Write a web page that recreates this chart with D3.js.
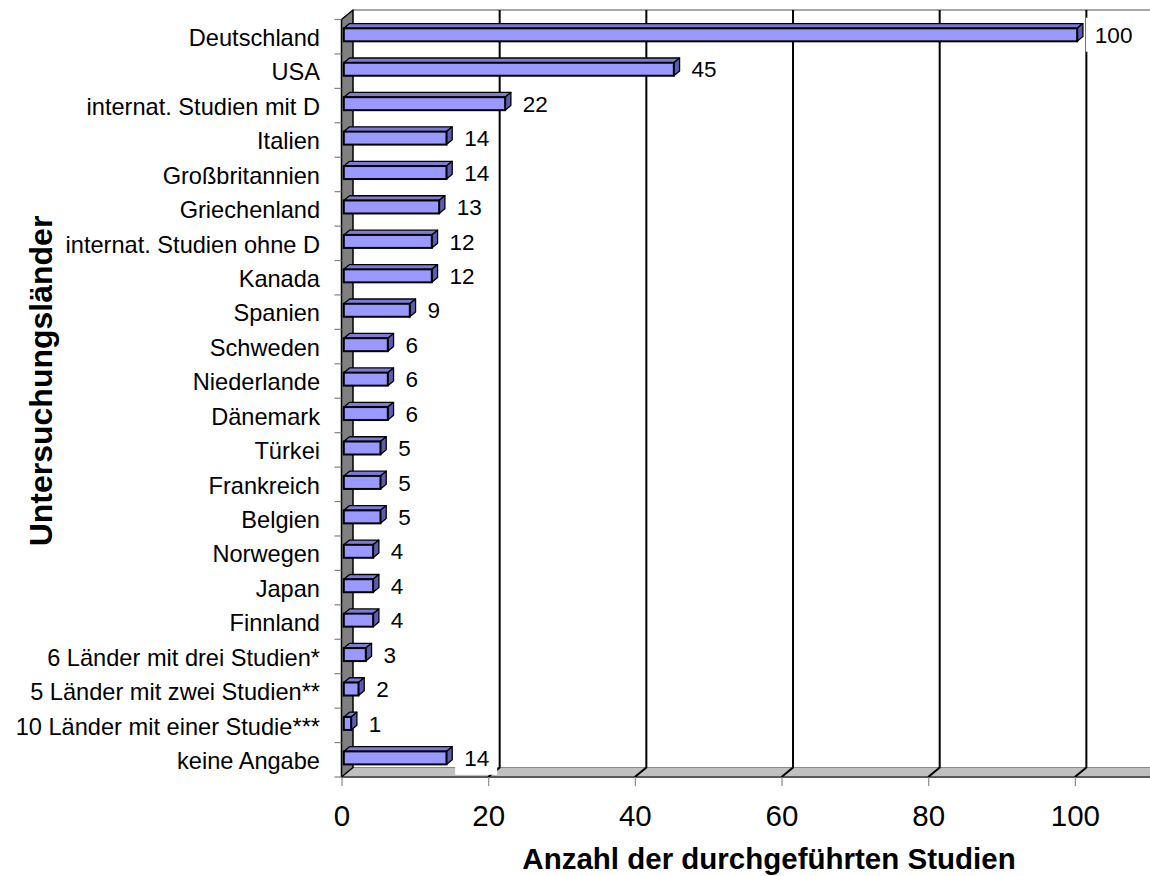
<!DOCTYPE html>
<html>
<head>
<meta charset="utf-8">
<script src="https://cdn.jsdelivr.net/npm/d3@7"></script>
<style>
    body { margin: 0; background: #fff; }
    text { font-family: Arial, "Liberation Sans", sans-serif; fill: #000; }
</style>
</head>
<body>
<svg id="chart" width="1150" height="876"></svg>
<script>
var categories = ["Deutschland", "USA", "internat. Studien mit D", "Italien", "Großbritannien",
    "Griechenland", "internat. Studien ohne D", "Kanada", "Spanien", "Schweden", "Niederlande",
    "Dänemark", "Türkei", "Frankreich", "Belgien", "Norwegen", "Japan", "Finnland",
    "6 Länder mit drei Studien*", "5 Länder mit zwei Studien**", "10 Länder mit einer Studie***",
    "keine Angabe"];
var values = [100, 45, 22, 14, 14, 13, 12, 12, 9, 6, 6, 6, 5, 5, 5, 4, 4, 4, 3, 2, 1, 14];
var xTicks = [0, 20, 40, 60, 80, 100];
var xTitle = "Anzahl der durchgeführten Studien";
var yTitle = "Untersuchungsländer";

var svg = d3.select("#chart");

// 3d depth offset of the back wall
var DX = 11.5, DY = 9.5;

var x = d3.scaleLinear().domain([0, 110]).range([341.5, 1148.2]);
var y = d3.scaleBand().domain(categories).range([19.5, 777]);
var x0 = x(0), yTop = y.range()[0], yBot = y.range()[1];

// floor
svg.append("polygon")
    .attr("points", [[x0, yBot], [x(110), yBot], [x(110) + DX, yBot - DY], [x0 + DX, yBot - DY]].join(" "))
    .attr("fill", "#c0c0c0")
    .attr("stroke", "#8c8c8c")
    .attr("stroke-width", 1);
svg.append("line")
    .attr("x1", x0).attr("x2", 1150).attr("y1", yBot).attr("y2", yBot)
    .attr("stroke", "#5a5a5a").attr("stroke-width", 2);

// top edge of back wall
svg.append("line")
    .attr("x1", x0 + DX).attr("x2", 1150).attr("y1", yTop - DY).attr("y2", yTop - DY)
    .attr("stroke", "#a6a6a6").attr("stroke-width", 2);

// gridlines on back wall + floor
svg.selectAll(".grid")
    .data(xTicks.filter(function (t) { return t > 0; }))
    .enter().append("path")
    .attr("class", "grid")
    .attr("fill", "none")
    .attr("stroke", "#000")
    .attr("stroke-width", 2)
    .attr("d", function (t) {
        return "M" + (x(t) + DX) + "," + (yTop - DY) + "L" + (x(t) + DX) + "," + (yBot - DY) + "L" + x(t) + "," + yBot;
    });

// left wall
svg.append("polygon")
    .attr("points", [[x0, yBot], [x0, yTop], [x0 + DX, yTop - DY], [x0 + DX, yBot - DY]].join(" "))
    .attr("fill", "#808080")
    .attr("stroke", "#000")
    .attr("stroke-width", 1.5)
    .attr("stroke-linejoin", "round");

// y ticks at band boundaries
var bounds = categories.map(function (c) { return y(c); }).concat([yBot]);
svg.selectAll(".ytick")
    .data(bounds)
    .enter().append("line")
    .attr("class", "ytick")
    .attr("x1", x0 - 7).attr("x2", x0)
    .attr("y1", function (d) { return d; }).attr("y2", function (d) { return d; })
    .attr("stroke", "#808080").attr("stroke-width", 1.2);

// x axis
var xAxis = d3.axisBottom(x).tickValues(xTicks).tickSize(9).tickPadding(19);
var gx = svg.append("g")
    .attr("transform", "translate(0," + yBot + ")")
    .call(xAxis);
gx.select(".domain").remove();
gx.selectAll(".tick line").attr("stroke", "#8c8c8c").attr("stroke-width", 1.2);
gx.selectAll(".tick text")
    .style("font-family", "Arial, 'Liberation Sans', sans-serif")
    .style("font-size", "29.5px")
    .attr("fill", "#000");

// category labels
svg.selectAll(".cat")
    .data(categories)
    .enter().append("text")
    .attr("class", "cat")
    .attr("x", 320)
    .attr("y", function (d) { return y(d) + y.bandwidth() / 2 + 9.3; })
    .attr("text-anchor", "end")
    .style("font-size", "23.6px")
    .text(function (d) { return d; });

// 3d bars
var data = categories.map(function (c, i) { return { cat: c, val: values[i] }; });
var bx = 0.2 * DX, by = 0.2 * DY, ddx = 0.5 * DX, ddy = 0.5 * DY, bh = 13;

var bars = svg.selectAll(".bar")
    .data(data)
    .enter().append("g")
    .attr("class", "bar");

function face(d) {
    var fx0 = x(0) + bx, fx1 = x(d.val) + bx;
    var fy0 = y(d.cat) + y.bandwidth() / 2 - by - bh / 2, fy1 = fy0 + bh;
    return { fx0: fx0, fx1: fx1, fy0: fy0, fy1: fy1 };
}

bars.append("polygon")
    .attr("points", function (d) {
        var f = face(d);
        return [[f.fx0, f.fy0], [f.fx1, f.fy0], [f.fx1 + ddx, f.fy0 - ddy], [f.fx0 + ddx, f.fy0 - ddy]].join(" ");
    })
    .attr("fill", "#7c7cd6").attr("stroke", "#000").attr("stroke-width", 1.3).attr("stroke-linejoin", "round");

bars.append("polygon")
    .attr("points", function (d) {
        var f = face(d);
        return [[f.fx1, f.fy0], [f.fx1 + ddx, f.fy0 - ddy], [f.fx1 + ddx, f.fy1 - ddy], [f.fx1, f.fy1]].join(" ");
    })
    .attr("fill", "#5c5cb0").attr("stroke", "#000").attr("stroke-width", 1.3).attr("stroke-linejoin", "round");

bars.append("rect")
    .attr("x", function (d) { return face(d).fx0; })
    .attr("y", function (d) { return face(d).fy0; })
    .attr("width", function (d) { var f = face(d); return f.fx1 - f.fx0; })
    .attr("height", bh)
    .attr("fill", "#9999ff").attr("stroke", "#000").attr("stroke-width", 2);

// value labels with white box
var labels = svg.selectAll(".val")
    .data(data)
    .enter().append("g")
    .attr("class", "val");

labels.append("text")
    .attr("x", function (d) { return x(d.val) + 20; })
    .attr("y", function (d) { return y(d.cat) + y.bandwidth() / 2 + 6.2; })
    .style("font-size", "22.5px")
    .text(function (d) { return d.val; });

labels.each(function (d) {
    var g = d3.select(this);
    var bb = g.select("text").node().getBBox();
    var yc = y(d.cat) + y.bandwidth() / 2 - 2;
    g.insert("rect", "text")
        .attr("x", bb.x - 9)
        .attr("y", yc - 17)
        .attr("width", bb.width + 17)
        .attr("height", Math.min(34, yBot - 2 - (yc - 17)))
        .attr("fill", "#fff");
});

// axis titles
svg.append("text")
    .attr("x", 769)
    .attr("y", 869)
    .attr("text-anchor", "middle")
    .style("font-size", "29.5px")
    .style("font-weight", "bold")
    .text(xTitle);

svg.append("text")
    .attr("transform", "translate(52,381) rotate(-90)")
    .attr("text-anchor", "middle")
    .style("font-size", "32px")
    .style("font-weight", "bold")
    .text(yTitle);
</script>
</body>
</html>
